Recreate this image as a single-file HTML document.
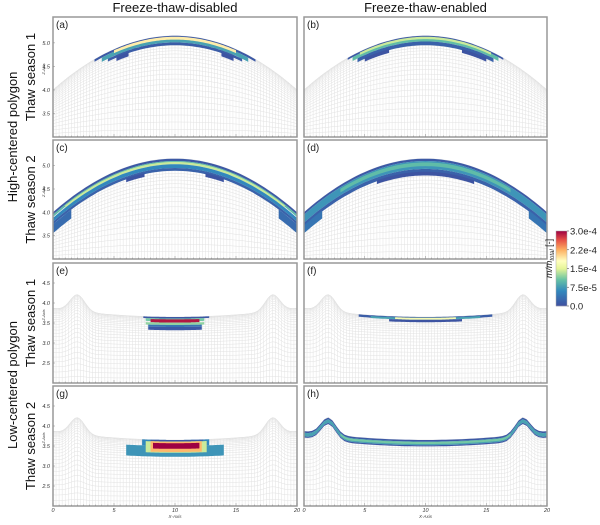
<!DOCTYPE html>
<html><head><meta charset="utf-8">
<style>
html,body{margin:0;padding:0;background:#fff;width:600px;height:525px;overflow:hidden}
svg text{font-family:"Liberation Sans",sans-serif}
</style></head>
<body>
<svg id="fig" width="600" height="525" viewBox="0 0 600 525" xmlns="http://www.w3.org/2000/svg"></svg>
<script>
// ---- data ----
const colTitles = ["Freeze-thaw-disabled", "Freeze-thaw-enabled"];
const rowGroups = ["High-centered polygon", "Low-centered polygon"];
const rowTitles = ["Thaw season 1", "Thaw season 2", "Thaw season 1", "Thaw season 2"];
const panelLetters = ["(a)","(b)","(c)","(d)","(e)","(f)","(g)","(h)"];
const xTicks = [0, 5, 10, 15, 20];
const yTicksHC = [3.5, 4.0, 4.5, 5.0];
const yTicksLC = [2.5, 3.0, 3.5, 4.0, 4.5];
const cbTicks = [0, 7.5e-5, 1.5e-4, 2.25e-4, 3.0e-4];
const cbTickLabels = ["0.0", "7.5e-5", "1.5e-4", "2.2e-4", "3.0e-4"];
// bands: [xStart, xEnd, depthTop, depthBottom, value]
const bandsA = [[3.4,16.6,0,0.05,1e-5],[4,16,0.05,0.14,8e-5],[5,15,0.02,0.08,1.9e-4],[4.5,15.5,0.14,0.2,1.5e-5],[5.2,6.2,0.18,0.27,0.5e-5],[13.8,14.8,0.18,0.27,0.5e-5]];
const bandsB = [[3.6,16.4,0,0.04,1e-5],[4,16,0.04,0.12,1.0e-4],[4.6,15.4,0.02,0.07,1.4e-4],[4.4,15.6,0.12,0.2,2e-5],[5,7,0.18,0.26,0.5e-5],[13,15,0.18,0.26,0.5e-5]];
const bandsC = [[0,20,0,0.05,1e-5],[0,20,0.05,0.1,1.0e-4],[1,19,0.07,0.12,1.4e-4],[0,20,0.12,0.2,6e-5],[0,20,0.2,0.26,2e-5],[6,7.5,0.24,0.32,0.5e-5],[12.5,14,0.24,0.32,0.5e-5],[0,1.5,0.26,0.45,3e-5],[18.5,20,0.26,0.45,3e-5]];
const bandsD = [[0,20,0,0.05,1e-5],[0,20,0.05,0.22,7e-5],[3,17,0.08,0.16,1.0e-4],[0,20,0.22,0.3,2e-5],[6,14,0.28,0.36,0.5e-5],[0,1.5,0.28,0.45,4e-5],[18.5,20,0.28,0.45,4e-5]];
const bandsE = [[7.4,12.8,0,0.04,1e-5],[7.6,12.4,0.04,0.11,1.1e-4],[8,12,0.06,0.14,2.9e-4],[7.6,12.4,0.14,0.2,1.2e-4],[7.8,12.2,0.2,0.25,4e-5],[7.8,12.2,0.25,0.33,1e-5]];
const bandsF = [[4.5,15.5,0,0.06,1.5e-5],[5.5,14.5,0.02,0.07,8e-5],[7.5,12.5,0.02,0.07,1.7e-4],[7,13,0.07,0.13,0.5e-5]];
const bandsG = [[6,14,0.15,0.42,7e-5],[7.3,12.8,0,0.15,6e-5],[8,12.3,0,0.03,1e-5],[7.6,12.6,0.04,0.32,1.4e-4],[8,12.2,0.04,0.3,2.2e-4],[8.2,12,0.08,0.22,3.0e-4]];
const bandsH = [[0,20,0,0.04,1e-5],[0,20,0.04,0.13,8e-5],[3,17,0.05,0.1,1.1e-4],[0,20,0.13,0.16,1e-5]];
// ---- helpers ----
const NS="http://www.w3.org/2000/svg";
const svg=document.getElementById('fig');
function mk(tag,attrs,parent){const e=document.createElementNS(NS,tag);for(const k in attrs)e.setAttribute(k,attrs[k]);(parent||svg).appendChild(e);return e;}
const stops=[[0,[62,79,160]],[0.2,[50,136,189]],[0.35,[102,194,165]],[0.5,[230,245,152]],[0.6,[255,255,191]],[0.75,[253,174,97]],[0.88,[230,80,70]],[1,[158,1,66]]];
function cmap(v){let t=Math.max(0,Math.min(1,v/3e-4));for(let i=1;i<stops.length;i++){if(t<=stops[i][0]){const a=stops[i-1],b=stops[i];const f=(t-a[0])/(b[0]-a[0]);const c=a[1].map((x,j)=>Math.round(x+(b[1][j]-x)*f));return `rgb(${c})`;}}return 'rgb(158,1,66)';}
function hc(x){return 5.15-1.15*Math.pow((x-10)/10,2);}
function lc(x){return 3.65+0.14*Math.pow((x-10)/8,2)+0.42*Math.exp(-Math.pow((x-2)/0.85,2))+0.42*Math.exp(-Math.pow((x-18)/0.85,2));}
const cols=[[53,297],[304,547]];
const rows=[[17,137,3.0,5.55,hc,3.0],[140,259,3.0,5.55,hc,3.0],[263,383,2.0,5.0,lc,2.0],[386,506,2.0,5.0,lc,2.0]];
const bandSets=[bandsA,bandsB,bandsC,bandsD,bandsE,bandsF,bandsG,bandsH];

for(let r=0;r<4;r++){for(let c=0;c<2;c++){
  const [top,bot,ymin,ymax,surf,base]=rows[r];const [L,R]=cols[c];
  const xs=x=>L+(x/20)*(R-L);const ys=y=>bot-(y-ymin)/(ymax-ymin)*(bot-top);
  const g=mk('g',{});
  
  
  const mesh=mk('g',{stroke:'#e2e2e2','stroke-width':0.5,fill:'none'},g);
  
  
  for(let i=0;i<=80;i++){const x=i*0.25;mk('line',{x1:xs(x),x2:xs(x),y1:ys(base),y2:ys(surf(x))},mesh);}
  const N=26;
  for(let k=0;k<=N;k++){const s=1-Math.pow(k/N,2);let d='';for(let i=0;i<=100;i++){const x=i*0.2;const y=base+(surf(x)-base)*s;d+=(i?'L':'M')+xs(x).toFixed(1)+','+ys(y).toFixed(1);}mk('path',{d:d},mesh);}
  for(const b of bandSets[r*2+c]){
    const [x0,x1,dt,db,v]=b;let up='',dn=[];
    for(let i=0;i<=60;i++){const x=x0+(x1-x0)*i/60;up+=(i?'L':'M')+xs(x).toFixed(1)+','+ys(surf(x)-dt).toFixed(1);dn.push(xs(x).toFixed(1)+','+ys(surf(x)-db).toFixed(1));}
    const p=mk('path',{d:up+'L'+dn.reverse().join('L')+'Z',fill:cmap(v)},g);
    
    
  }
  const fr=mk('rect',{x:L,y:top,width:R-L,height:bot-top,fill:'none',stroke:'#999','stroke-width':1.5},g);
  
  
  for(let i=0;i<=40;i++){mk('line',{x1:xs(i*0.5),x2:xs(i*0.5),y1:bot,y2:bot-(i%10==0?3:1.5),stroke:'#888','stroke-width':0.5},g);}
  const lt=mk('text',{x:L+3,y:top+11,'font-size':10,fill:'#222'},g);lt.textContent=panelLetters[r*2+c];
  
  
  if(c==0){
    const yt=r<2?yTicksHC:yTicksLC;
    for(const v of yt){const t=mk('text',{x:L-3,y:ys(v)+2,'font-size':5.5,'text-anchor':'end','font-style':'italic','font-family':'Liberation Mono',fill:'#333'},g);t.textContent=v.toFixed(1);
      
      
      mk('line',{x1:L,x2:L+2,y1:ys(v),y2:ys(v),stroke:'#888','stroke-width':0.5},g);}
    const za=mk('text',{x:0,y:0,'font-size':4,'font-style':'italic','text-anchor':'middle',fill:'#444',transform:`translate(${L-8},${(top+bot)/2-8}) rotate(-90)`},g);za.textContent='Z-Axis';
    
    
    const rt=mk('text',{x:0,y:0,'font-size':13,'text-anchor':'middle',fill:'#111',transform:`translate(${35},${(top+bot)/2}) rotate(-90)`});rt.textContent=rowTitles[r];
    
    
  }
  if(r==3){
    for(const v of xTicks){const t=mk('text',{x:xs(v),y:512,'font-size':5.5,'text-anchor':'middle','font-style':'italic','font-family':'Liberation Mono',fill:'#333'});t.textContent=v;
      
      }
    const xa=mk('text',{x:(L+R)/2,y:518,'font-size':4.5,'text-anchor':'middle','font-style':'italic',fill:'#444'});xa.textContent='X-Axis';
    
    
  }
}}
colTitles.forEach((t,i)=>{const e=mk('text',{x:(cols[i][0]+cols[i][1])/2,y:12,'font-size':13,'text-anchor':'middle',fill:'#111'});e.textContent=t;
  
  });
[[137],[385]].forEach((p,i)=>{const e=mk('text',{x:0,y:0,'font-size':13,'text-anchor':'middle',fill:'#111',transform:`translate(17,${p[0]}) rotate(-90)`});e.textContent=rowGroups[i];
  
  });
const cb=mk('g',{});


const cbT=231,cbB=306,cbL=556,cbW=11;
for(let i=0;i<75;i++){const v=3e-4*(1-(i+0.5)/75);mk('rect',{x:cbL,y:cbT+i,width:cbW,height:1.2,fill:cmap(v)},cb);}
mk('rect',{x:cbL,y:cbT,width:cbW,height:cbB-cbT,fill:'none',stroke:'#aaa','stroke-width':0.5},cb);
cbTicks.forEach((v,i)=>{const y=cbB-(v/3e-4)*(cbB-cbT);mk('line',{x1:cbL+cbW,x2:cbL+cbW+2,y1:y,y2:y,stroke:'#555','stroke-width':0.6},cb);
  const t=mk('text',{x:cbL+cbW+3,y:y+3.5,'font-size':9.5,fill:'#222'},cb);t.textContent=cbTickLabels[i];
  
  });
const cbl=mk('text',{x:0,y:0,'font-size':9,'text-anchor':'middle','font-style':'italic',fill:'#222',transform:`translate(552,${(cbT+cbB)/2-10}) rotate(-90)`},cb);
cbl.innerHTML='m/m<tspan font-size="6" dy="2">total</tspan><tspan dy="-2" font-style="normal"> [-]</tspan>';


</script>
</body></html>
